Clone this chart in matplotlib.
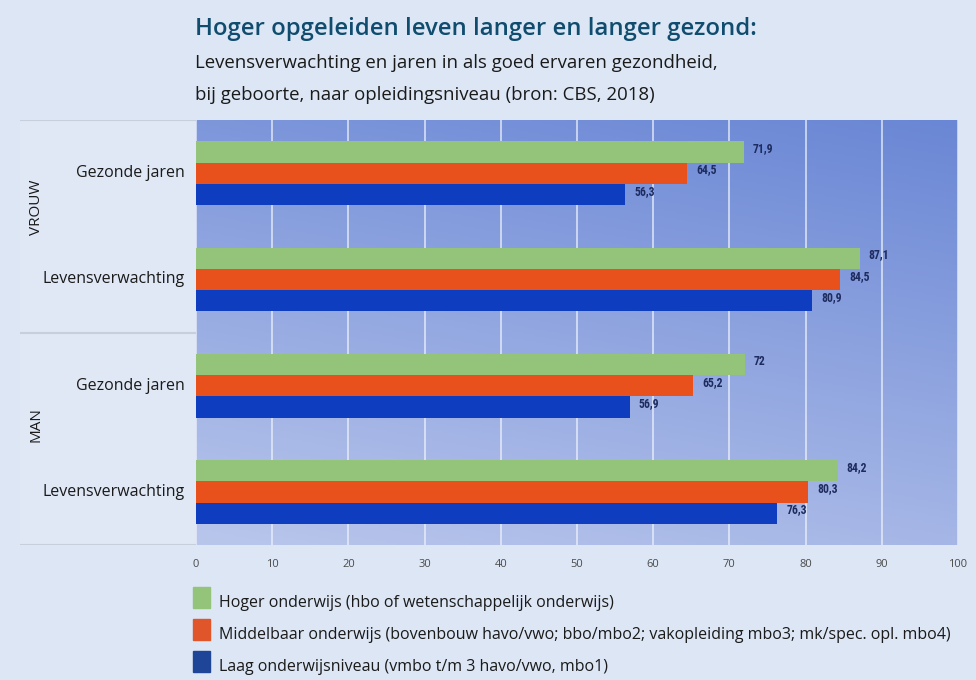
import matplotlib
matplotlib.use("Agg")
import matplotlib.pyplot as plt
import numpy as np
from matplotlib.colors import LinearSegmentedColormap

plt.rcParams['font.family'] = ['Open Sans', 'DejaVu Sans']

categories = ["Gezonde jaren", "Levensverwachting", "Gezonde jaren", "Levensverwachting"]
groups = ["VROUW", "MAN"]
hoger = [71.9, 87.1, 72.0, 84.2]
middel = [64.5, 84.5, 65.2, 80.3]
laag = [56.3, 80.9, 56.9, 76.3]
hoger_lbl = ["71,9", "87,1", "72", "84,2"]
middel_lbl = ["64,5", "84,5", "65,2", "80,3"]
laag_lbl = ["56,3", "80,9", "56,9", "76,3"]
series_names = [
    "Hoger onderwijs (hbo of wetenschappelijk onderwijs)",
    "Middelbaar onderwijs (bovenbouw havo/vwo; bbo/mbo2; vakopleiding mbo3; mk/spec. opl. mbo4)",
    "Laag onderwijsniveau (vmbo t/m 3 havo/vwo, mbo1)",
]
xticks = [0, 10, 20, 30, 40, 50, 60, 70, 80, 90, 100]

bar_colors = ["#93c47a", "#e8501c", "#0f3dbf"]
legend_colors = ["#93c47a", "#e0552a", "#1f4598"]

fig = plt.figure(figsize=(9.76, 6.8), dpi=100)
fig.patch.set_facecolor("#dce6f5")

# left label panel
panel = fig.add_axes([20/976, 1-545/680, (196-20)/976, 425/680])
panel.set_xlim(0, 1); panel.set_ylim(0, 1)
panel.axis("off")
panel.add_patch(plt.Rectangle((0, 0), 1, 1, color="#e0e8f6", zorder=0))
for yy in [1.0, 0.5, 0.0]:
    panel.axhline(yy, color="#c8cfdc", lw=1.5)

ax = fig.add_axes([196/976, 1-545/680, (958-196)/976, 425/680])
# gradient background: darker at top, lighter at bottom
gx = np.linspace(0, 1, 200)
gy = np.linspace(0, 1, 200)
GX, GY = np.meshgrid(gx, gy)
val = 0.75 * (1 - GY) + 0.25 * GX
cmap = LinearSegmentedColormap.from_list("bg", ["#b9c6ec", "#6a87d5"])
ax.imshow(val, extent=[0, 100, 3.5, -0.5], aspect="auto", cmap=cmap, origin="upper", zorder=0)

y = np.arange(len(categories))
h = 0.2
for i, (vals, lbls) in enumerate([(hoger, hoger_lbl), (middel, middel_lbl), (laag, laag_lbl)]):
    pos = y + (i - 1) * h
    ax.barh(pos, vals, height=h, color=bar_colors[i], zorder=3, label=series_names[i])
    for p, v, l in zip(pos, vals, lbls):
        ax.text(v + 1.2, p - 0.03, l, fontsize=8.5, fontweight="bold", color="#1e2b5e",
                va="center", ha="left", zorder=4, family=["Roboto Condensed", "Roboto", "DejaVu Sans"])

ax.set_xlim(0, 100)
ax.set_ylim(3.5, -0.5)
ax.set_xticks(xticks)
ax.xaxis.grid(True, color="#eef2fb", lw=1.2, alpha=0.8, zorder=1)
ax.set_axisbelow(True)
ax.set_yticks([])
ax.tick_params(axis="x", length=0, labelsize=8, labelcolor="#4a4a4a", pad=10)
for s in ax.spines.values():
    s.set_visible(False)

# category labels
for yi, c in zip(y, categories):
    ax.text(-1.5, yi, c, ha="right", va="center", fontsize=11.5, color="#1a1a1a")
# group labels
for g, yc in zip(groups, [207, 425]):
    fig.text(36/976, 1 - yc/680, g, rotation=90, ha="center", va="center",
             fontsize=11, color="#1a1a1a")

# titles
fig.text(195/976, 1-29/680, "Hoger opgeleiden leven langer en langer gezond:", fontsize=17.2,
         fontweight="semibold", color="#0f4c6e", va="center", ha="left")
fig.text(195/976, 1-63/680, "Levensverwachting en jaren in als goed ervaren gezondheid,", fontsize=13.4,
         color="#1a1a1a", va="center", ha="left")
fig.text(195/976, 1-95/680, "bij geboorte, naar opleidingsniveau (bron: CBS, 2018)", fontsize=13.4,
         color="#1a1a1a", va="center", ha="left")

# legend
for i, (name, col) in enumerate(zip(series_names, legend_colors)):
    yc = 598 + i * 32
    fig.patches.append(plt.Rectangle((193/976, 1-(yc+10)/680), 17/976, 21/680,
                                     transform=fig.transFigure, color=col, figure=fig))
    fig.text(219/976, 1-(yc+5)/680, name, fontsize=11.5, color="#1a1a1a", va="center", ha="left")

fig.savefig("out.png", dpi=100, facecolor=fig.get_facecolor())
